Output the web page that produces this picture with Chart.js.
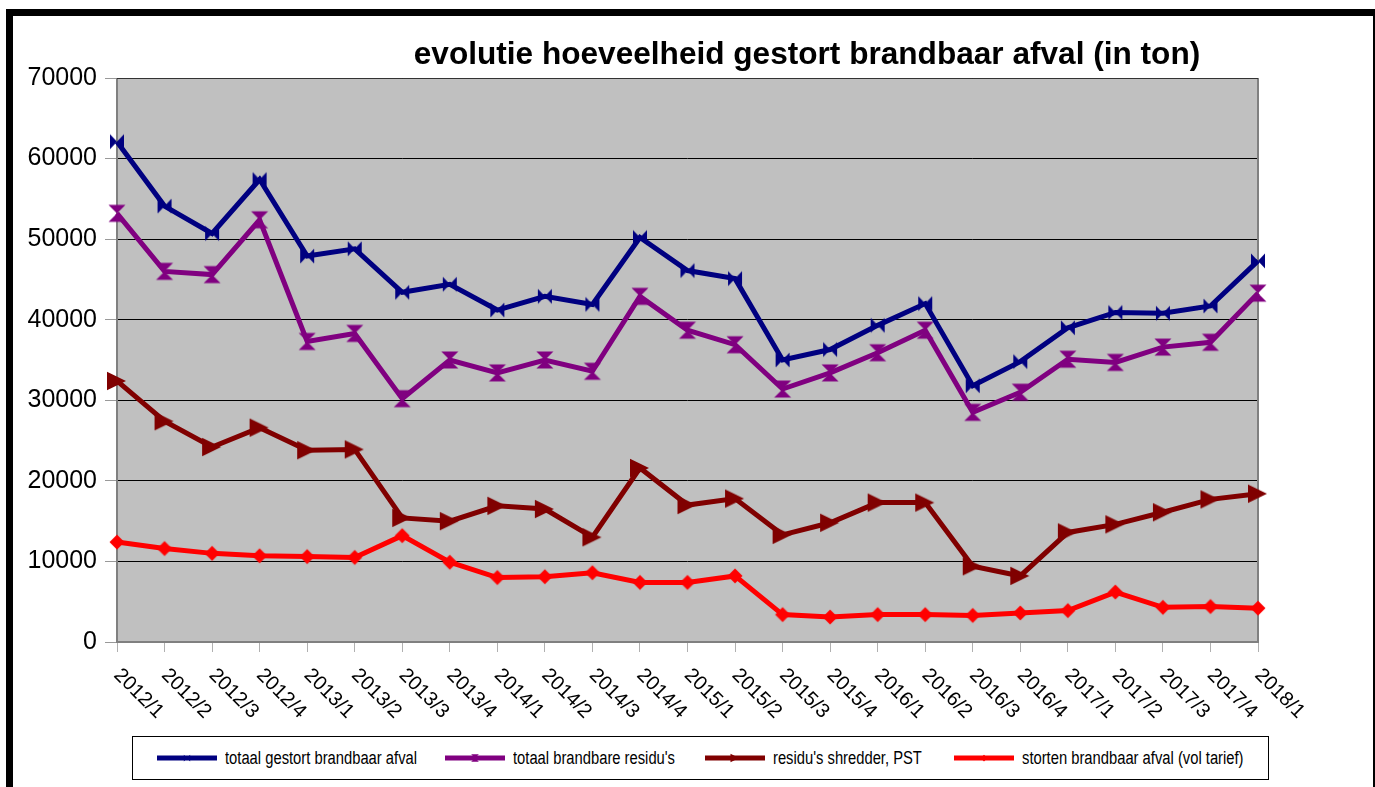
<!DOCTYPE html>
<html lang="nl">
<head>
<meta charset="UTF-8">
<title>evolutie hoeveelheid gestort brandbaar afval (in ton)</title>
<script src="https://cdn.jsdelivr.net/npm/chart.js"></script>
<style>
  html, body { margin: 0; padding: 0; background: #fff; overflow: hidden; }
  .frame {
    position: absolute; left: 6px; top: 9px; width: 1360px; height: 800px;
    border-top: 7px solid #000; border-left: 7px solid #000; border-right: 2px solid #000;
  }
  #chart { position: absolute; left: 0; top: 0; }
  .legend {
    position: absolute; left: 132px; top: 736px; width: 1135px; height: 42px;
    border: 1px solid #000; background: #fff;
    font-family: "Liberation Sans", Arial, sans-serif;
    font-size: 18px; color: #000;
  }
  .legend .item { position: absolute; top: 0; height: 42px; display: flex; align-items: center; white-space: nowrap; }
  .legend canvas { display: block; margin-right: 8px; }
  .legend span { display: inline-block; transform: scaleX(0.82); transform-origin: left center; }
</style>
</head>
<body>
<div class="frame"></div>
<canvas id="chart" width="1375" height="787"></canvas>
<div class="legend" id="legend"></div>

<script>
// kwartalen
const labels = ['2012/1','2012/2','2012/3','2012/4','2013/1','2013/2','2013/3','2013/4',
  '2014/1','2014/2','2014/3','2014/4','2015/1','2015/2','2015/3','2015/4',
  '2016/1','2016/2','2016/3','2016/4','2017/1','2017/2','2017/3','2017/4','2018/1'];

const totaalGestort = [62100, 54100, 50700, 57400, 47900, 48800, 43400, 44400,
  41200, 42900, 41900, 50200, 46100, 45100, 35000, 36300,
  39300, 42000, 31800, 34800, 39000, 40900, 40800, 41700, 47300];

const totaalResidus = [53200, 46000, 45600, 52400, 37300, 38300, 30200, 35000,
  33400, 35000, 33600, 42900, 38700, 36900, 31400, 33400,
  35900, 38700, 28500, 31000, 35100, 34700, 36600, 37200, 43300];

const residusShredder = [32400, 27400, 24200, 26600, 23800, 23900, 15400, 15000,
  16900, 16500, 13000, 21600, 17000, 17800, 13300, 14800,
  17300, 17300, 9400, 8200, 13600, 14600, 16100, 17700, 18400];

const stortenVol = [12400, 11600, 11000, 10700, 10600, 10500, 13200, 9900,
  8000, 8100, 8600, 7400, 7400, 8200, 3400, 3100,
  3400, 3400, 3300, 3600, 3900, 6200, 4300, 4400, 4200];

const seriesNames = ['totaal gestort brandbaar afval', "totaal brandbare residu's",
  "residu's shredder, PST", 'storten brandbaar afval (vol tarief)'];

const FONT = '"Liberation Sans", Arial, sans-serif';

// markers
function marker(kind, color, k) {
  const c = document.createElement('canvas');
  c.width = 24; c.height = 24;
  const g = c.getContext('2d');
  g.translate(12, 12);
  g.scale(k, k);
  g.fillStyle = color;
  g.beginPath();
  if (kind === 'bowtie') {
    g.moveTo(-7, -7.5); g.lineTo(0, 0); g.lineTo(-7, 7.5); g.closePath();
    g.moveTo(7, -7.5); g.lineTo(0, 0); g.lineTo(7, 7.5); g.closePath();
  } else if (kind === 'hourglass') {
    g.moveTo(-8.5, -8.5); g.lineTo(8.5, -8.5); g.lineTo(0, 0); g.closePath();
    g.moveTo(-8.5, 8.5); g.lineTo(8.5, 8.5); g.lineTo(0, 0); g.closePath();
  } else if (kind === 'triangle') {
    g.moveTo(-10, -9.3); g.lineTo(9, 0); g.lineTo(-10, 9.3); g.closePath();
  } else {
    g.moveTo(0, -7.5); g.lineTo(7.5, 0); g.lineTo(0, 7.5); g.lineTo(-7.5, 0); g.closePath();
  }
  g.fill();
  return c;
}

const colors = ['#000080', '#800080', '#800000', '#ff0000'];
const kinds = ['bowtie', 'hourglass', 'triangle', 'diamond'];
const values = [totaalGestort, totaalResidus, residusShredder, stortenVol];

const datasets = values.map((v, i) => ({
  label: seriesNames[i],
  data: v,
  borderColor: colors[i],
  backgroundColor: colors[i],
  borderWidth: 5,
  pointStyle: marker(kinds[i], colors[i], 1),
  pointRadius: 8,
  tension: 0,
  clip: false
}));

const plotBg = {
  id: 'plotBg',
  beforeDraw(chart) {
    const a = chart.chartArea, ctx = chart.ctx;
    ctx.save();
    ctx.fillStyle = '#c0c0c0';
    ctx.fillRect(a.left, a.top, a.right - a.left, a.bottom - a.top);
    ctx.restore();
  },
  beforeDatasetsDraw(chart) {
    const a = chart.chartArea, ctx = chart.ctx;
    ctx.save();
    ctx.strokeStyle = '#808080';
    ctx.lineWidth = 2;
    ctx.beginPath();
    ctx.moveTo(a.left, a.top); ctx.lineTo(a.left, a.bottom);
    ctx.lineTo(a.right, a.bottom); ctx.lineTo(a.right, a.top);
    ctx.stroke();
    ctx.strokeStyle = '#333';
    ctx.lineWidth = 1;
    ctx.beginPath();
    ctx.moveTo(a.left, a.top + 0.5); ctx.lineTo(a.right, a.top + 0.5);
    ctx.stroke();
    ctx.restore();
  }
};

// titel en schuine x-labels
const texts = {
  id: 'texts',
  afterDraw(chart) {
    const ctx = chart.ctx, x = chart.scales.x;
    ctx.save();
    ctx.fillStyle = '#000';
    ctx.font = 'bold 31.6px ' + FONT;
    ctx.textAlign = 'center';
    ctx.textBaseline = 'middle';
    ctx.fillText('evolutie hoeveelheid gestort brandbaar afval (in ton)', 807, 55);
    ctx.font = '20px ' + FONT;
    ctx.textAlign = 'left';
    chart.data.labels.forEach((lab, i) => {
      const px = x.getPixelForTick(i);
      ctx.save();
      ctx.translate(px, 672);
      ctx.rotate(Math.PI / 4);
      ctx.fillText(lab, 0, 0);
      ctx.restore();
    });
    ctx.restore();
  }
};

new Chart(document.getElementById('chart'), {
  type: 'line',
  data: { labels: labels, datasets: datasets },
  options: {
    responsive: false,
    animation: false,
    layout: { padding: { left: 0, right: 117, top: 78, bottom: 135 } },
    plugins: { legend: { display: false }, title: { display: false }, tooltip: { enabled: false } },
    scales: {
      x: {
        offset: false,
        border: { display: false },
        grid: { drawOnChartArea: false, drawTicks: true, tickLength: 10, tickColor: '#b0b0b0' },
        ticks: { display: false },
        afterFit(s) { s.height = 10; }
      },
      y: {
        min: 0, max: 70000,
        border: { display: false },
        grid: { color: '#000', lineWidth: 1, tickLength: 12, tickColor: '#999' },
        ticks: {
          stepSize: 10000, padding: 8, color: '#000',
          font: { family: FONT, size: 25 },
          callback: v => String(v)
        },
        afterFit(s) { s.width = 117; }
      }
    }
  },
  plugins: [plotBg, texts]
});

// legende
const legendPos = [24, 312, 572, 821];
const legend = document.getElementById('legend');
seriesNames.forEach((name, i) => {
  const item = document.createElement('div');
  item.className = 'item';
  item.style.left = legendPos[i] + 'px';
  const sw = document.createElement('canvas');
  sw.width = 60; sw.height = 14;
  const g = sw.getContext('2d');
  g.strokeStyle = colors[i];
  g.lineWidth = 5;
  g.beginPath(); g.moveTo(0, 7); g.lineTo(60, 7); g.stroke();
  g.drawImage(marker(kinds[i], colors[i], 0.45), 18, -5);
  item.appendChild(sw);
  const t = document.createElement('span');
  t.textContent = name;
  item.appendChild(t);
  legend.appendChild(item);
});
</script>
</body>
</html>
